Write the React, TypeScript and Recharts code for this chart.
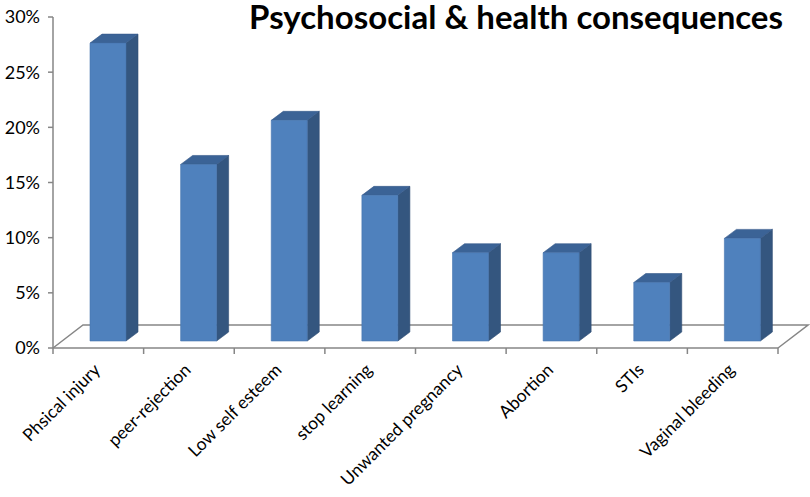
import React from "react";
import { BarChart, Bar, XAxis, YAxis, ReferenceArea } from "recharts";

const categories = [
  "Phsical injury",
  "peer-rejection",
  "Low self esteem",
  "stop learning",
  "Unwanted pregnancy",
  "Abortion",
  "STIs",
  "Vaginal bleeding",
];
const shares = [0.27, 0.16, 0.2, 0.132, 0.08, 0.08, 0.053, 0.093];
const yTicks = [0, 0.05, 0.1, 0.15, 0.2, 0.25, 0.3];

const data = categories.map((name, i) => ({ name, value: shares[i] }));

const FONT = "Lato, 'Open Sans', sans-serif";
const AXIS = "#868686";

// bar sits a little behind the front edge of the floor
const SHIFT_X = 10;
const SHIFT_Y = -7;
const DEPTH_X = 12;
const DEPTH_Y = -9;

function Bar3D(props: any) {
  const { x, y, width, height } = props;
  if (!height || height <= 0) return null;
  const fx = x + SHIFT_X;
  const fy = y + SHIFT_Y;
  const front = `${fx},${fy} ${fx + width},${fy} ${fx + width},${fy + height} ${fx},${fy + height}`;
  const side = `${fx + width},${fy} ${fx + width + DEPTH_X},${fy + DEPTH_Y} ${fx + width + DEPTH_X},${fy + height + DEPTH_Y} ${fx + width},${fy + height}`;
  const top = `${fx},${fy} ${fx + DEPTH_X},${fy + DEPTH_Y} ${fx + width + DEPTH_X},${fy + DEPTH_Y} ${fx + width},${fy}`;
  return (
    <g>
      <polygon points={side} fill="#34567f" stroke="#2f4e74" strokeWidth={0.6} />
      <polygon points={top} fill="#3b6396" stroke="#35598a" strokeWidth={0.6} />
      <polygon points={front} fill="#4f81bd" stroke="#4676b0" strokeWidth={0.6} />
    </g>
  );
}

// floor plane plus the category boundary ticks
function Floor(props: any) {
  const { x, y, width, height } = props;
  const b = y + height;
  const dx = 30;
  const dy = -23;
  const n = categories.length;
  return (
    <g>
      <polyline
        points={`${x},${b} ${x + dx},${b + dy} ${x + width + dx},${b + dy} ${x + width},${b}`}
        fill="none"
        stroke={AXIS}
        strokeWidth={1.5}
      />
      {Array.from({ length: n + 1 }, (_, i) => (
        <line
          key={i}
          x1={x + (i * width) / n}
          x2={x + (i * width) / n}
          y1={b}
          y2={b + 6}
          stroke={AXIS}
          strokeWidth={1.5}
        />
      ))}
    </g>
  );
}

function CategoryTick(props: any) {
  const { x, y, payload } = props;
  const ax = x + 3;
  const ay = y + 15;
  return (
    <text
      x={ax}
      y={ay}
      transform={`rotate(-45 ${ax} ${ay})`}
      textAnchor="end"
      fontSize={17.5}
      fontFamily={FONT}
      fill="#000"
    >
      {payload.value}
    </text>
  );
}

export default function App() {
  return (
    <div style={{ position: "absolute", left: 0, top: 0, width: 810, height: 497, background: "#fff" }}>
      <BarChart
        width={810}
        height={497}
        data={data}
        margin={{ top: 17, right: 32, bottom: 49, left: 0 }}
        barSize={36}
      >
        <XAxis
          dataKey="name"
          axisLine={{ stroke: AXIS, strokeWidth: 1.5 }}
          tickLine={false}
          tick={<CategoryTick />}
          height={100}
          interval={0}
        />
        <YAxis
          domain={[0, 0.3]}
          ticks={yTicks}
          width={53}
          tickSize={5}
          tickMargin={8}
          axisLine={{ stroke: AXIS, strokeWidth: 1.5 }}
          tickLine={{ stroke: AXIS, strokeWidth: 1.5 }}
          tick={{ fontSize: 18, fontFamily: FONT, fill: "#000" }}
          tickFormatter={(v: number) => `${Math.round(v * 100)}%`}
        />
        <ReferenceArea y1={0} y2={0.3} shape={<Floor />} ifOverflow="visible" />
        <Bar dataKey="value" shape={<Bar3D />} isAnimationActive={false} />
      </BarChart>
      <svg width={810} height={60} style={{ position: "absolute", left: 0, top: 0, pointerEvents: "none" }}>
        <text x={783} y={29} textAnchor="end" fontFamily={FONT} fontWeight={700} fontSize={33} fill="#000">
          Psychosocial &amp; health consequences
        </text>
      </svg>
    </div>
  );
}
